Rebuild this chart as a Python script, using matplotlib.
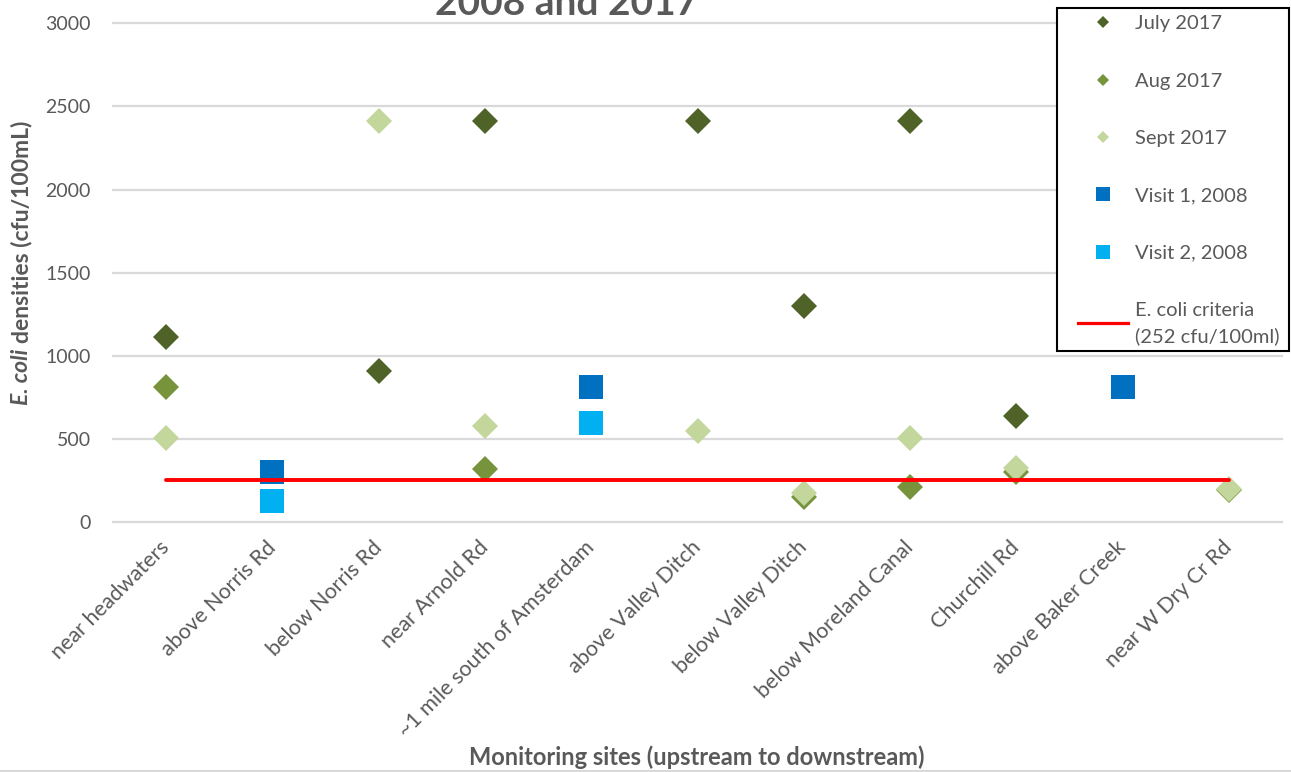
import numpy as np
import matplotlib
matplotlib.use("Agg")
import matplotlib.pyplot as plt
from matplotlib.lines import Line2D
from matplotlib.patches import Rectangle

plt.rcParams['font.family'] = ['Lato', 'DejaVu Sans']

nan = np.nan
sites = ["near headwaters", "above Norris Rd", "below Norris Rd", "near Arnold Rd",
         "~1 mile south of Amsterdam", "above Valley Ditch", "below Valley Ditch",
         "below Moreland Canal", "Churchill Rd", "above Baker Creek", "near W Dry Cr Rd"]
july_2017 = [1110, nan, 910, 2410, nan, 2410, 1300, 2410, 640, nan, nan]
aug_2017 = [815, nan, nan, 318, nan, nan, 150, 212, 298, nan, 190]
sept_2017 = [507, nan, 2410, 578, nan, 545, 175, 507, 322, nan, 200]
visit1_2008 = [nan, 303, nan, nan, 813, nan, nan, nan, nan, 813, nan]
visit2_2008 = [nan, 128, nan, nan, 596, nan, nan, nan, nan, nan, nan]
criteria = [252] * len(sites)
y_ticks = [0, 500, 1000, 1500, 2000, 2500, 3000]

C_JULY = '#4f6228'
C_AUG = '#77933c'
C_SEPT = '#c3d69b'
C_V1 = '#0070c0'
C_V2 = '#00b0f0'
C_RED = '#ff0000'
TXT = '#595959'

W, H = 1291, 772
fig = plt.figure(figsize=(W / 100, H / 100), dpi=100)
ax_l, ax_r, ax_t, ax_b = 113, 1282, 23.3, 522
ax = fig.add_axes([ax_l / W, 1 - ax_b / H, (ax_r - ax_l) / W, (ax_b - ax_t) / H])

x = np.arange(len(sites))
dsz = 13.5
ssz = 17.5
ax.plot(x, july_2017, 'D', color=C_JULY, ms=dsz, mew=0, zorder=3)
ax.plot(x, aug_2017, 'D', color=C_AUG, ms=dsz, mew=0, zorder=3)
ax.plot(x, sept_2017, 'D', color=C_SEPT, ms=dsz, mew=0, zorder=3)
ax.plot(x, visit1_2008, 's', color=C_V1, ms=ssz, mew=0, zorder=3)
ax.plot(x, visit2_2008, 's', color=C_V2, ms=ssz, mew=0, zorder=3)
ax.plot(x, criteria, '-', color=C_RED, lw=2.8, zorder=4, solid_capstyle='round')

ax.set_xlim(-0.5, len(sites) - 0.5)
ax.set_ylim(0, 3000)
ax.set_yticks(y_ticks)
ax.set_yticklabels([str(v) for v in y_ticks])
ax.grid(axis='y', color='#d9d9d9', lw=1.6, zorder=0)
ax.set_axisbelow(True)
for gl in ax.get_ygridlines():
    gl.set_clip_on(False)
for s in ax.spines.values():
    s.set_visible(False)
ax.tick_params(axis='y', length=0, pad=16, labelsize=14, labelcolor=TXT)
ax.tick_params(axis='x', length=0, pad=16, labelsize=15.5, labelcolor=TXT)
ax.set_xticks(x)
ax.set_xticklabels(sites, rotation=45, ha='right', va='center', rotation_mode='anchor')

# title (partially visible, as in the reference)
fig.text(567 / W, 1 - 15 / H, '2008 and 2017', ha='center', va='baseline',
         fontsize=28, fontweight='bold', color=TXT)

# x label
fig.text(697 / W, 1 - 757 / H, 'Monitoring sites (upstream to downstream)', ha='center',
         va='center', fontsize=17, fontweight='bold', color=TXT)

# y label in two parts
renderer = fig.canvas.get_renderer()
t1 = fig.text(22 / W, 1 - 405 / H, 'E. coli', rotation=90, ha='center', va='bottom',
              fontsize=16.5, fontweight='bold', style='italic', color=TXT)
bb = t1.get_window_extent(renderer)
fig.text(22 / W, (bb.y1 + 6) / H, 'densities (cfu/100mL)', rotation=90, ha='center',
         va='bottom', fontsize=16.5, fontweight='bold', color=TXT)

# legend box
fig.patches.append(Rectangle((1057 / W, 1 - 351 / H), (1289 - 1057) / W, (351 - 8) / H,
                             transform=fig.transFigure, facecolor='white',
                             edgecolor='black', lw=1.5, zorder=4, figure=fig))
handles = [
    Line2D([], [], ls='none', marker='D', color=C_JULY, ms=5.8, mew=0),
    Line2D([], [], ls='none', marker='D', color=C_AUG, ms=5.8, mew=0),
    Line2D([], [], ls='none', marker='D', color=C_SEPT, ms=5.8, mew=0),
    Line2D([], [], ls='none', marker='s', color=C_V1, ms=10, mew=0),
    Line2D([], [], ls='none', marker='s', color=C_V2, ms=10, mew=0),
    Line2D([], [], ls='-', color=C_RED, lw=2.3),
]
labels = ['July 2017', 'Aug 2017', 'Sept 2017', 'Visit 1, 2008', 'Visit 2, 2008',
          'E. coli criteria\n(252 cfu/100ml)']
leg = fig.legend(handles, labels, loc='upper left', bbox_to_anchor=(1064 / W, 1 - 1 / H),
                 bbox_transform=fig.transFigure, frameon=False, fontsize=14.5,
                 labelcolor=TXT, handlelength=2.5, handletextpad=0.35,
                 labelspacing=2.0, borderpad=0.2)
leg.set_zorder(6)
leg.get_texts()[-1].set_linespacing(1.55)

# faint chart-area border at bottom
fig.add_artist(Line2D([0, 1], [1.5 / H, 1.5 / H], transform=fig.transFigure,
                      color='#d9d9d9', lw=1.5))

fig.savefig('out.png', dpi=100)
